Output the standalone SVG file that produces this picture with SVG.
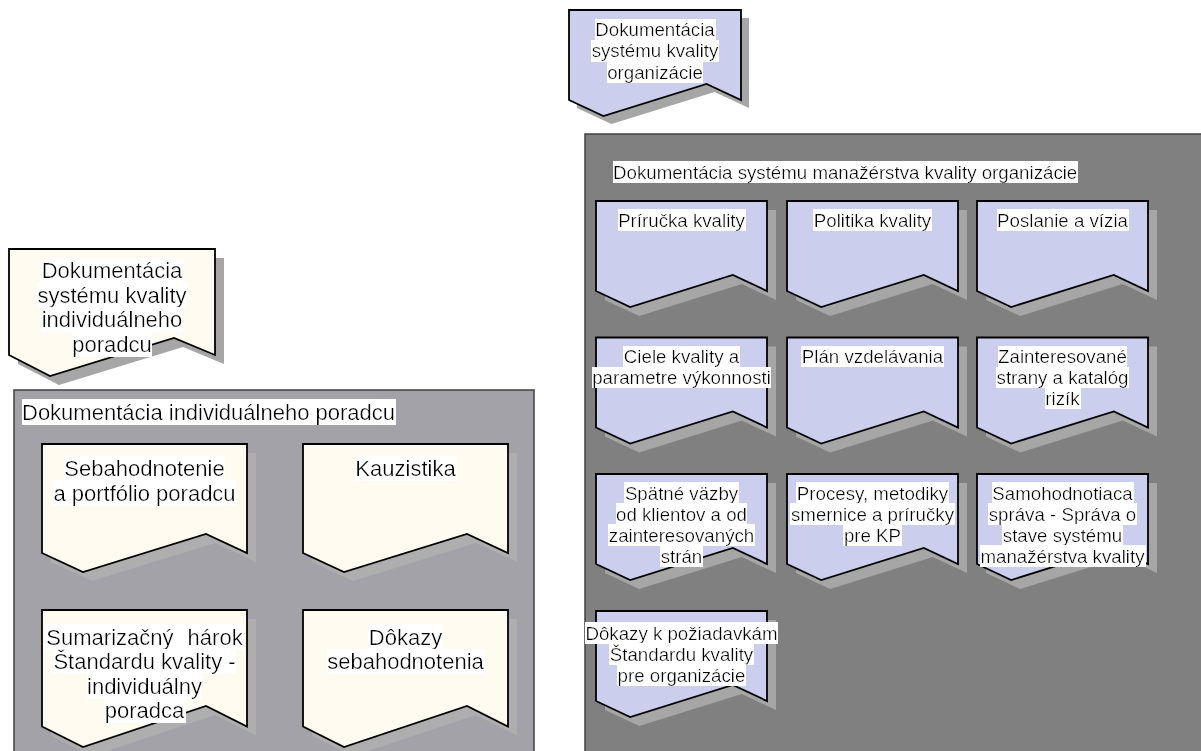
<svg xmlns="http://www.w3.org/2000/svg" xmlns:xlink="http://www.w3.org/1999/xlink" width="1201" height="751" viewBox="0 0 1201 751">
  <style>
    .panelR { fill: #808080; stroke: #404040; stroke-width: 1.5; }
    .panelL { fill: #a3a2a8; stroke: #404040; stroke-width: 1.5; }
    .shadow { fill: #a6a6a6; stroke: none; }
    .shadowL { fill: #aeaeae; stroke: none; }
    .blue { fill: #cbceec; stroke: #000; stroke-width: 1.8; stroke-linejoin: miter; }
    .ivory { fill: #fffbf0; stroke: #000; stroke-width: 1.8; stroke-linejoin: miter; }
    text { font-family: "Liberation Sans", Arial, sans-serif; fill: #000; filter: url(#textbg); }
    .s { font-size: 18.7px; }
    .l { font-size: 22px; }
    .c { text-anchor: middle; }
  </style>
  <defs>
    <!-- white box behind each text line -->
    <filter id="textbg" x="0" y="0" width="1" height="1">
      <feFlood flood-color="#ffffff"/>
      <feComposite in="SourceGraphic" operator="over"/>
    </filter>
    <!-- document shapes -->
    <path id="docR" d="M0,0 H171 V90 L136.8,74 L34.2,106 L0,90 Z"/>
    <path id="docL1" d="M0,0 H205 V109 L164,90 L41,128 L0,109 Z"/>
    <path id="docL2" d="M0,0 H205 V116.5 L164,96 L41,137 L0,116.5 Z"/>
    <path id="docTop" d="M0,0 H172 V90 L137.6,74 L34.4,106 L0,90 Z"/>
    <path id="docLeft" d="M0,0 H206 V106 L165,89 L41,127 L0,106 Z"/>
  </defs>

  <rect width="1201" height="751" fill="#ffffff"/>

  <!-- organisation quality system -->
  <g id="org-doc">
    <use xlink:href="#docTop" class="shadow" x="577" y="18"/>
    <use xlink:href="#docTop" class="blue" x="569" y="10"/>
    <text class="s c" x="655" y="36">Dokumentácia</text>
    <text class="s c" x="655" y="57.3">systému kvality</text>
    <text class="s c" x="655" y="78.6">organizácie</text>
  </g>

  <g id="org-panel">
    <rect class="panelR" x="585" y="134" width="630" height="630"/>
    <text class="s" x="613" y="178.5">Dokumentácia systému manažérstva kvality organizácie</text>
  </g>

  <g id="prirucka">
    <use xlink:href="#docR" class="shadow" x="605" y="210"/>
    <use xlink:href="#docR" class="blue" x="596" y="201"/>
    <text class="s c" x="681.5" y="226.5">Príručka kvality</text>
  </g>
  <g id="politika">
    <use xlink:href="#docR" class="shadow" x="796" y="210"/>
    <use xlink:href="#docR" class="blue" x="787" y="201"/>
    <text class="s c" x="872.5" y="226.5">Politika kvality</text>
  </g>
  <g id="poslanie">
    <use xlink:href="#docR" class="shadow" x="986" y="210"/>
    <use xlink:href="#docR" class="blue" x="977" y="201"/>
    <text class="s c" x="1062.5" y="226.5">Poslanie a vízia</text>
  </g>

  <g id="ciele">
    <use xlink:href="#docR" class="shadow" x="605" y="346.5"/>
    <use xlink:href="#docR" class="blue" x="596" y="337.5"/>
    <text class="s c" x="681.5" y="363">Ciele kvality a</text>
    <text class="s c" x="681.5" y="384">parametre výkonnosti</text>
  </g>
  <g id="plan">
    <use xlink:href="#docR" class="shadow" x="796" y="346.5"/>
    <use xlink:href="#docR" class="blue" x="787" y="337.5"/>
    <text class="s c" x="872.5" y="363">Plán vzdelávania</text>
  </g>
  <g id="zainteresovane">
    <use xlink:href="#docR" class="shadow" x="986" y="346.5"/>
    <use xlink:href="#docR" class="blue" x="977" y="337.5"/>
    <text class="s c" x="1062.5" y="363">Zainteresované</text>
    <text class="s c" x="1062.5" y="384">strany a katalóg</text>
    <text class="s c" x="1062.5" y="405">rizík</text>
  </g>

  <g id="spatne">
    <use xlink:href="#docR" class="shadow" x="605" y="483"/>
    <use xlink:href="#docR" class="blue" x="596" y="474"/>
    <text class="s c" x="681.5" y="499.5">Spätné väzby</text>
    <text class="s c" x="681.5" y="520.5">od klientov a od</text>
    <text class="s c" x="681.5" y="541.5">zainteresovaných</text>
    <text class="s c" x="681.5" y="562.5">strán</text>
  </g>
  <g id="procesy">
    <use xlink:href="#docR" class="shadow" x="796" y="483"/>
    <use xlink:href="#docR" class="blue" x="787" y="474"/>
    <text class="s c" x="872.5" y="499.5">Procesy, metodiky</text>
    <text class="s c" x="872.5" y="520.5">smernice a príručky</text>
    <text class="s c" x="872.5" y="541.5">pre KP</text>
  </g>
  <g id="samohodnotiaca">
    <use xlink:href="#docR" class="shadow" x="986" y="483"/>
    <use xlink:href="#docR" class="blue" x="977" y="474"/>
    <text class="s c" x="1062.5" y="499.5">Samohodnotiaca</text>
    <text class="s c" x="1062.5" y="520.5">správa - Správa o</text>
    <text class="s c" x="1062.5" y="541.5">stave systému</text>
    <text class="s c" x="1062.5" y="562.5">manažérstva kvality</text>
  </g>

  <g id="dokazy-org">
    <use xlink:href="#docR" class="shadow" x="605" y="620"/>
    <use xlink:href="#docR" class="blue" x="596" y="611"/>
    <text class="s c" x="681.5" y="639.5">Dôkazy k požiadavkám</text>
    <text class="s c" x="681.5" y="660.5">Štandardu kvality</text>
    <text class="s c" x="681.5" y="681.5">pre organizácie</text>
  </g>

  <!-- individual advisor quality system -->
  <g id="ind-doc">
    <use xlink:href="#docLeft" class="shadow" x="18" y="258"/>
    <use xlink:href="#docLeft" class="ivory" x="9" y="249"/>
    <text class="l c" x="112" y="278">Dokumentácia</text>
    <text class="l c" x="112" y="302.5">systému kvality</text>
    <text class="l c" x="112" y="327">individuálneho</text>
    <text class="l c" x="112" y="351.5">poradcu</text>
  </g>

  <g id="ind-panel">
    <rect class="panelL" x="14" y="390" width="520" height="380"/>
    <text class="l" x="22" y="419.6">Dokumentácia individuálneho poradcu</text>
  </g>

  <g id="sebahodnotenie">
    <use xlink:href="#docL1" class="shadowL" x="51" y="453"/>
    <use xlink:href="#docL1" class="ivory" x="42" y="444"/>
    <text class="l c" x="144.5" y="476">Sebahodnotenie</text>
    <text class="l c" x="144.5" y="500.5">a portfólio poradcu</text>
  </g>
  <g id="kauzistika">
    <use xlink:href="#docL1" class="shadowL" x="312" y="453"/>
    <use xlink:href="#docL1" class="ivory" x="303" y="444"/>
    <text class="l c" x="405.5" y="476">Kauzistika</text>
  </g>
  <g id="sumarizacny">
    <use xlink:href="#docL2" class="shadowL" x="51" y="619"/>
    <use xlink:href="#docL2" class="ivory" x="42" y="610"/>
    <text class="l c" x="144.5" y="644.6" word-spacing="8">Sumarizačný hárok</text>
    <text class="l c" x="144.5" y="669">Štandardu kvality -</text>
    <text class="l c" x="144.5" y="693.6">individuálny</text>
    <text class="l c" x="144.5" y="718">poradca</text>
  </g>
  <g id="dokazy-ind">
    <use xlink:href="#docL2" class="shadowL" x="312" y="619"/>
    <use xlink:href="#docL2" class="ivory" x="303" y="610"/>
    <text class="l c" x="405.5" y="644.6">Dôkazy</text>
    <text class="l c" x="405.5" y="669">sebahodnotenia</text>
  </g>

  <g id="connectors"/>
</svg>
